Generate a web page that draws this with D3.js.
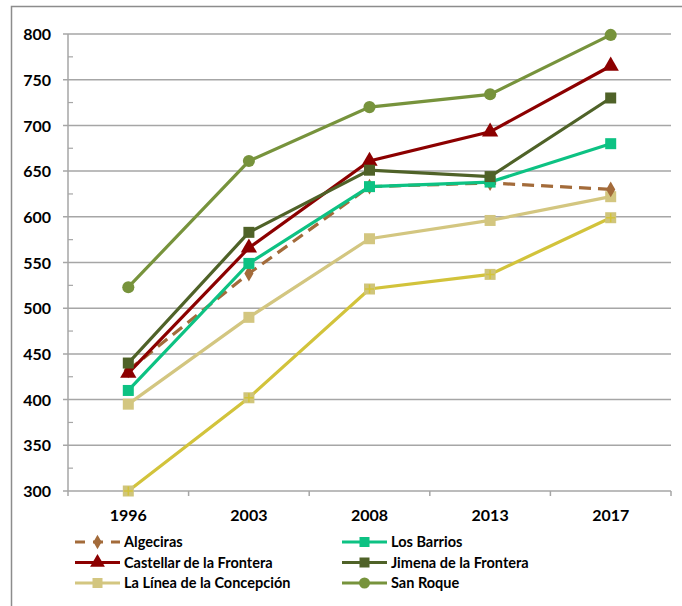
<!DOCTYPE html>
<html>
<head>
<meta charset="utf-8">
<script src="https://cdn.jsdelivr.net/npm/d3@7"></script>
<style>
  body { margin: 0; background: #fff; }
  svg text { font-family: Lato, "Open Sans", sans-serif; font-weight: 700; fill: #000; }
</style>
</head>
<body>
<svg id="chart" width="682" height="606"></svg>
<script>
const years = ["1996", "2003", "2008", "2013", "2017"];
const yTicks = [300, 350, 400, 450, 500, 550, 600, 650, 700, 750, 800];

const algeciras = [432, 538, 633, 637, 630];
const losBarrios = [410, 549, 633, 638, 680];
const castellar = [429, 566, 661, 693, 765];
const jimena = [440, 583, 651, 644, 730];
const laLinea = [395, 490, 576, 596, 622];
const sanRoque = [523, 661, 720, 734, 799];
const serie7 = [300, 402, 521, 537, 599];

const series = [
  { name: "Serie 7", values: serie7, color: "#D2C33B", marker: "squareCross", legend: false },
  { name: "La Línea de la Concepción", values: laLinea, color: "#D3C680", marker: "square", legend: true },
  { name: "Algeciras", values: algeciras, color: "#A36B3A", marker: "diamond", dashed: true, legend: true },
  { name: "Los Barrios", values: losBarrios, color: "#0DC283", marker: "square", legend: true },
  { name: "Castellar de la Frontera", values: castellar, color: "#8C0000", marker: "triangle", legend: true },
  { name: "Jimena de la Frontera", values: jimena, color: "#4F6228", marker: "square", legend: true },
  { name: "San Roque", values: sanRoque, color: "#77933C", marker: "circle", legend: true }
];

const legendOrder = [
  "Algeciras", "Los Barrios",
  "Castellar de la Frontera", "Jimena de la Frontera",
  "La Línea de la Concepción", "San Roque"
];

const svg = d3.select("#chart");
const plot = { left: 68, right: 671, top: 34, bottom: 491 };

// outer frame (right edge cut off in the original)
svg.append("path")
  .attr("d", "M682,6.5 H11.5 V606")
  .attr("fill", "none")
  .attr("stroke", "#8c8c8c")
  .attr("stroke-width", 1.5);

const x = d3.scaleBand().domain(years).range([plot.left, plot.right]);
const y = d3.scaleLinear().domain([300, 800]).range([plot.bottom, plot.top]);

// gridlines
svg.append("g")
  .selectAll("line")
  .data(yTicks)
  .join("line")
  .attr("x1", plot.left - 5)
  .attr("x2", plot.right)
  .attr("y1", (d) => y(d))
  .attr("y2", (d) => y(d))
  .attr("stroke", "#a6a6a6")
  .attr("stroke-width", 1.5);

// minor ticks on the y axis
svg.append("g")
  .selectAll("line")
  .data(yTicks.slice(1).map((d) => d - 25))
  .join("line")
  .attr("x1", plot.left)
  .attr("x2", plot.left + 5)
  .attr("y1", (d) => y(d))
  .attr("y2", (d) => y(d))
  .attr("stroke", "#a6a6a6")
  .attr("stroke-width", 1.2);

svg.append("line")
  .attr("x1", plot.left).attr("x2", plot.left)
  .attr("y1", plot.top).attr("y2", plot.bottom)
  .attr("stroke", "#a6a6a6").attr("stroke-width", 1.5);

const yAxis = svg.append("g")
  .attr("transform", `translate(${plot.left - 13},0)`)
  .call(d3.axisLeft(y).tickValues(yTicks).tickSize(0).tickPadding(4));
yAxis.select(".domain").remove();
yAxis.selectAll("text").style("font-size", "16px").attr("dy", "0.35em");

// x axis tick marks at band boundaries
const bounds = years.map((d) => x(d)).concat([plot.right]);
svg.append("g")
  .selectAll("line")
  .data(bounds)
  .join("line")
  .attr("x1", (d) => d).attr("x2", (d) => d)
  .attr("y1", plot.bottom).attr("y2", plot.bottom + 5)
  .attr("stroke", "#a6a6a6").attr("stroke-width", 1.5);

const xAxis = svg.append("g")
  .attr("transform", `translate(0,${plot.bottom})`)
  .call(d3.axisBottom(x).tickSize(0).tickPadding(19));
xAxis.select(".domain").remove();
xAxis.selectAll("text").style("font-size", "16px");

function drawMarker(g, type, color, cx, cy, s) {
  if (type === "circle") {
    g.append("circle").attr("cx", cx).attr("cy", cy).attr("r", s * 0.55).attr("fill", color);
  } else if (type === "square" || type === "squareCross") {
    g.append("rect").attr("x", cx - s / 2).attr("y", cy - s / 2)
      .attr("width", s).attr("height", s).attr("fill", type === "squareCross" ? "#D0C57A" : color);
    if (type === "squareCross") {
      g.append("path")
        .attr("d", `M${cx - s / 2 + 1},${cy} H${cx + s / 2 - 1} M${cx},${cy - s / 2 + 1} V${cy + s / 2 - 1}`)
        .attr("stroke", color).attr("stroke-width", 1.5);
    }
  } else if (type === "triangle") {
    g.append("path")
      .attr("d", d3.symbol(d3.symbolTriangle, s * s * 0.95)())
      .attr("transform", `translate(${cx},${cy})`)
      .attr("fill", color);
  } else if (type === "diamond") {
    g.append("path")
      .attr("d", d3.symbol(d3.symbolDiamond, s * s * 0.6)())
      .attr("transform", `translate(${cx},${cy})`)
      .attr("fill", color);
  }
}

const line = d3.line()
  .x((d, i) => x(years[i]) + x.bandwidth() / 2)
  .y((d) => y(d));

series.forEach((s) => {
  const g = svg.append("g");
  g.append("path")
    .datum(s.values)
    .attr("d", line)
    .attr("fill", "none")
    .attr("stroke", s.color)
    .attr("stroke-width", 3.2)
    .attr("stroke-dasharray", s.dashed ? "12,7" : null);
  s.values.forEach((v, i) => {
    drawMarker(g, s.marker, s.color, x(years[i]) + x.bandwidth() / 2, y(v), 11);
  });
});

// legend
const legendCols = [75, 342];
const legendRows = [542, 562.5, 583];
legendOrder.forEach((name, i) => {
  const s = series.find((d) => d.name === name);
  const lx = legendCols[i % 2];
  const ly = legendRows[Math.floor(i / 2)];
  const g = svg.append("g");
  g.append("line")
    .attr("x1", lx).attr("x2", lx + 45)
    .attr("y1", ly).attr("y2", ly)
    .attr("stroke", s.color).attr("stroke-width", 3.2)
    .attr("stroke-dasharray", s.dashed ? "10,8" : null);
  drawMarker(g, s.marker, s.color, lx + 22.5, ly, 10);
  g.append("text")
    .attr("x", lx + 49)
    .attr("y", ly)
    .attr("dy", "0.35em")
    .style("font-size", "14.5px")
    .text(name);
});
</script>
</body>
</html>
